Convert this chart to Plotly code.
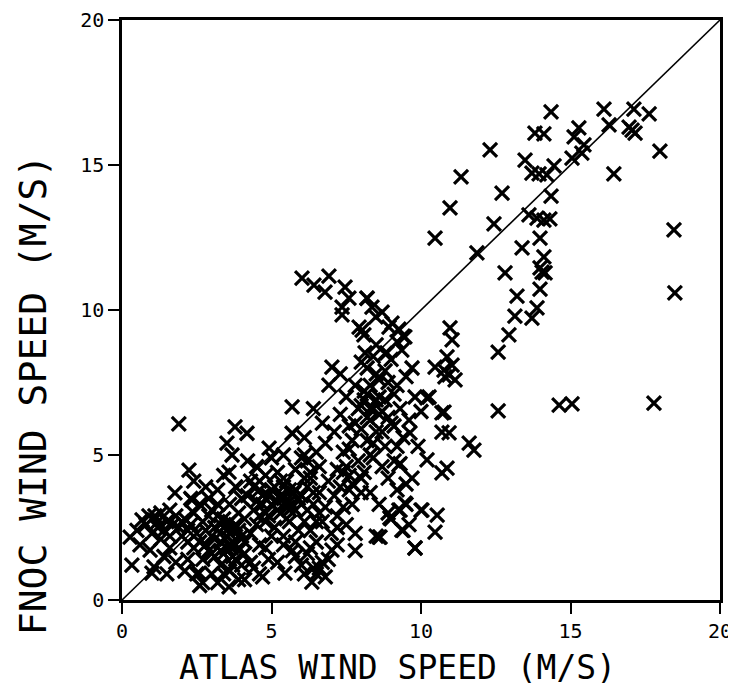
import plotly.graph_objects as go

# ---- data ----
# upper-right scatter (x > 10)
atlas_hi = [14.35, 16.12, 17.12, 17.63, 16.29, 16.96, 17.16, 17.06, 13.81, 14.11,
            15.28, 15.12, 15.45, 15.38, 15.05, 12.31, 17.99, 13.48, 14.45, 13.71,
            13.95, 14.21, 16.45, 12.71, 14.35, 12.44, 13.61, 13.88, 14.31, 14.11,
            18.46, 11.87, 13.98, 13.38, 14.11, 13.98, 14.05, 14.15, 12.81, 13.98,
            13.21, 18.49, 13.88, 13.14, 13.71, 12.94, 12.58, 12.58, 14.62, 15.05,
            17.79, 11.34, 10.97, 10.47]
fnoc_hi = [16.83, 16.93, 16.93, 16.76, 16.38, 16.31, 16.10, 16.20, 16.10, 16.07,
           16.28, 15.97, 15.69, 15.41, 15.24, 15.52, 15.48, 15.17, 14.97, 14.72,
           14.69, 14.66, 14.69, 14.03, 13.93, 12.97, 13.28, 13.17, 13.14, 13.10,
           12.76, 11.97, 12.48, 12.14, 11.83, 11.45, 11.31, 11.28, 11.28, 10.72,
           10.48, 10.59, 10.07, 9.79, 9.72, 9.14, 8.55, 6.52, 6.72, 6.76,
           6.79, 14.59, 13.52, 12.48]

# middle group (x 9-12)
atlas_mid = [10.97, 11.04, 10.87, 11.04, 10.94, 11.14, 10.77, 10.27, 10.70, 10.77,
             10.70, 10.94, 11.61, 11.77, 10.20, 9.26, 10.70, 10.87, 9.46, 9.26,
             10.03, 10.54, 10.47, 9.36, 8.63, 9.80, 8.96, 10.47, 10.80, 9.63,
             9.36, 8.13, 8.86, 10.20]
fnoc_mid = [9.38, 8.97, 8.38, 8.10, 7.76, 7.59, 7.93, 7.00, 6.45, 6.48,
            5.79, 5.76, 5.41, 5.17, 4.83, 4.66, 4.38, 4.55, 3.34, 3.10,
            3.10, 2.93, 2.34, 2.41, 2.17, 1.79, 2.83, 8.03, 7.69, 5.76,
            8.62, 8.52, 8.52, 6.97]

# upper arm (x 6-9.5, y 9-11)
atlas_arm = [6.02, 6.92, 6.42, 6.79, 7.46, 7.59, 7.36, 8.19, 8.70, 8.49,
             9.03, 7.93, 8.09, 9.26, 9.46, 7.36, 8.36, 8.03, 8.93, 7.02, 6.92]
fnoc_arm = [11.10, 11.17, 10.86, 10.62, 10.79, 10.41, 9.83, 10.41, 9.93, 9.76,
            9.55, 9.41, 9.14, 9.34, 9.07, 10.10, 10.10, 9.31, 9.41, 8.03, 7.41]

# dense band (x 0-10)
atlas_low = [0.27, 0.67, 0.94, 1.07, 0.5, 0.33, 0.9, 1.0, 0.8, 0.6,
             1.1, 1.2, 1.3, 1.4, 1.5, 1.6, 1.77, 1.8, 1.9, 1.9, 1.5, 1.8, 1.3, 1.6, 2.24, 2.34,
             2.0, 2.1, 2.3, 2.3, 2.4, 2.5, 2.58, 2.6, 2.6, 2.7, 2.7, 2.8, 2.8, 2.9, 2.9, 3.0,
             3.0, 2.2, 2.4, 2.1, 2.9, 2.6,
             3.0, 3.1, 3.1, 3.2, 3.2, 3.3, 3.3, 3.4, 3.4, 3.51, 3.5, 3.58, 3.6, 3.6, 3.6,
             3.68, 3.7, 3.7, 3.78, 3.8, 3.8, 3.9, 3.9, 3.9, 4.0, 4.0, 3.4, 3.6, 3.2, 3.5,
             3.7, 3.3, 3.8, 4.0, 3.58, 3.45, 3.65, 3.55,
             4.1, 4.1, 4.18, 4.2, 4.3, 4.3, 4.4, 4.4, 4.5, 4.5, 4.6, 4.6, 4.7, 4.7, 4.8,
             4.8, 4.92, 4.9, 5.0, 5.0, 4.4, 4.6, 4.9, 4.2, 4.8, 4.5,
             5.0, 5.1, 5.1, 5.2, 5.2, 5.3, 5.3, 5.4, 5.4, 5.5, 5.45, 5.5, 5.6, 5.6, 5.69,
             5.69, 5.7, 5.8, 5.8, 5.9, 5.9, 6.0, 6.0, 5.2, 5.6, 5.8, 5.4, 5.75, 5.3, 5.55,
             6.0, 6.1, 6.1, 6.2, 6.2, 6.3, 6.35, 6.3, 6.4, 6.4, 6.5, 6.5, 6.5, 6.6, 6.6,
             6.7, 6.7, 6.7, 6.8, 6.8, 6.9, 7.02, 7.0, 6.2, 6.6, 6.1, 6.8, 6.4, 6.0, 6.3,
             7.1, 7.1, 7.2, 7.2, 7.3, 7.3, 7.4, 7.5, 7.5, 7.6, 7.6, 7.7, 7.7, 7.8, 7.8,
             7.9, 7.9, 8.0, 8.0, 8.0, 7.2, 7.4, 7.7, 7.3, 7.8, 7.5,
             8.1, 8.1, 8.2, 8.2, 8.3, 8.3, 8.3, 8.4, 8.4, 8.5, 8.5, 8.6, 8.6, 8.6, 8.7,
             8.7, 8.8, 8.8, 8.9, 8.9, 9.0, 9.0, 8.4, 8.5, 8.9, 8.2, 8.8, 8.3, 8.1, 8.6,
             9.1, 9.1, 9.2, 9.2, 9.3, 9.3, 9.3, 9.4, 9.4, 9.5, 9.5, 9.6, 9.6, 9.7, 9.8,
             9.8, 9.9, 10.0, 9.4, 9.0, 9.2, 9.7, 10.0, 9.5]
fnoc_low = [2.17, 2.76, 1.72, 1.14, 2.4, 1.2, 2.9, 0.93, 2.6, 1.9,
            2.9, 2.5, 2.1, 1.5, 2.7, 2.2, 3.69, 1.3, 6.07, 2.5, 0.9, 2.9, 3.0, 1.8, 4.48, 3.45,
            2.2, 1.0, 3.5, 2.6, 1.8, 0.9, 0.93, 2.0, 3.3, 1.4, 0.6, 2.4, 3.9, 1.7, 2.9, 0.9,
            2.2, 2.0, 4.1, 2.8, 3.5, 0.5,
            3.1, 1.5, 2.5, 0.6, 3.8, 2.0, 1.2, 2.8, 4.3, 5.41, 1.8, 0.45, 2.3, 3.3, 1.0,
            5.0, 2.0, 1.5, 5.97, 2.6, 3.9, 1.7, 0.7, 3.0, 2.2, 1.2, 1.6, 2.7, 3.3, 2.2,
            2.4, 2.6, 1.9, 3.5, 4.41, 2.1, 1.8, 2.45,
            2.8, 1.6, 5.75, 3.6, 2.3, 4.1, 1.1, 3.1, 2.6, 4.6, 3.8, 1.9, 3.3, 0.8, 4.3,
            2.7, 5.24, 3.6, 2.2, 4.9, 3.9, 2.9, 1.4, 4.8, 3.0, 3.4,
            3.3, 3.9, 2.5, 1.3, 4.4, 3.0, 3.6, 2.2, 5.0, 3.3, 0.93, 4.1, 2.7, 3.8, 5.75,
            6.66, 1.7, 3.1, 4.5, 2.4, 3.5, 1.2, 4.9, 3.4, 3.1, 2.0, 3.9, 3.7, 3.5, 3.2,
            3.3, 2.7, 5.6, 3.9, 1.6, 4.4, 0.62, 2.4, 3.3, 6.6, 5.1, 2.0, 0.9, 3.7, 4.6,
            2.7, 6.1, 1.3, 3.2, 5.4, 4.1, 1.72, 2.3, 4.8, 3.0, 5.0, 0.8, 1.1, 3.6, 4.2,
            3.6, 5.8, 4.5, 2.9, 6.4, 3.9, 5.1, 2.6, 7.0, 4.3, 6.0, 3.3, 5.5, 7.4, 2.3,
            4.8, 6.6, 3.7, 5.9, 8.2, 1.9, 3.2, 4.0, 7.8, 1.7, 4.6,
            4.4, 6.9, 10.4, 5.5, 7.4, 3.7, 6.2, 4.9, 8.4, 5.8, 2.2, 7.0, 3.3, 2.17, 6.5,
            4.6, 8.5, 5.3, 7.5, 3.0, 6.1, 2.8, 6.6, 7.8, 4.2, 8.0, 6.9, 5.0, 7.2, 6.4,
            7.1, 4.8, 8.9, 3.8, 6.6, 3.1, 4.7, 5.6, 9.1, 3.3, 7.7, 6.2, 2.6, 4.2, 7.0,
            1.8, 5.3, 3.1, 2.4, 8.3, 5.3, 8.0, 6.5, 4.0]

# extra points in the darkest parts of the band
atlas_dense = [2.2, 2.5, 2.8, 3.1, 3.3, 3.5, 3.7, 3.9, 4.1, 3.4, 3.0, 2.7, 3.6, 3.8, 3.2,
               4.7, 5.0, 5.2, 5.4, 5.6, 5.8, 6.0, 6.2, 4.9, 5.3, 5.5, 5.7, 6.1, 6.4, 4.6,
               1.2, 1.4, 1.7, 2.0, 2.2, 1.0, 1.6, 2.4,
               7.4, 7.6, 7.8, 8.0, 8.2, 8.3, 8.5, 8.6, 8.4, 8.7, 8.9, 9.1, 8.0, 7.6, 8.8,
               9.2, 8.5, 8.2,
               6.3, 6.6, 6.9, 7.2, 6.5, 5.8, 5.4, 6.1,
               4.3, 4.6, 4.1, 4.8]
fnoc_dense = [1.4, 2.3, 1.9, 2.1, 1.7, 2.6, 1.2, 2.4, 2.0, 0.9, 1.6, 2.7, 1.9, 1.4, 2.9,
              3.6, 3.8, 3.1, 3.5, 3.4, 3.8, 3.6, 3.1, 2.9, 4.1, 2.8, 3.2, 4.2, 3.7, 4.1,
              2.7, 2.4, 2.6, 2.7, 2.4, 2.3, 3.1, 3.0,
              4.4, 5.2, 6.1, 6.7, 7.1, 6.6, 6.9, 7.6, 5.4, 5.8, 6.3, 6.0, 4.2, 3.8, 7.9,
              7.4, 8.8, 6.3,
              1.8, 1.1, 1.4, 2.5, 2.7, 1.5, 1.9, 0.9,
              1.3, 0.9, 0.7, 1.8]

atlas = atlas_hi + atlas_mid + atlas_arm + atlas_low + atlas_dense
fnoc = fnoc_hi + fnoc_mid + fnoc_arm + fnoc_low + fnoc_dense

diag = [0, 20]
tick_vals = [0, 5, 10, 15, 20]
tick_text = ["0", "5", "10", "15", "20"]

FONT = "DejaVu Sans Mono"

fig = go.Figure()
fig.add_trace(go.Scatter(x=diag, y=diag, mode="lines",
                         line=dict(color="black", width=1.6),
                         hoverinfo="skip", showlegend=False))
fig.add_trace(go.Scatter(x=atlas, y=fnoc, mode="markers",
                         marker=dict(symbol="x-thin", size=14,
                                     line=dict(color="black", width=3.2)),
                         showlegend=False))

axis_common = dict(range=[0, 20], tickvals=tick_vals, ticktext=tick_text,
                   showgrid=False, zeroline=False, showline=True,
                   linecolor="black", linewidth=2.5, mirror=True,
                   ticks="outside", ticklen=11, tickwidth=2.2, tickcolor="black",
                   automargin=False,
                   tickfont=dict(family=FONT, size=20, color="black"))

fig.update_xaxes(**axis_common)
fig.update_yaxes(**axis_common)

# the page body adds an 8px offset; the figure is sized to fit inside the window
fig.update_layout(
    width=728, height=678,
    margin=dict(l=114, r=16, t=12, b=86),
    paper_bgcolor="white", plot_bgcolor="white",
    annotations=[
        dict(text="ATLAS WIND SPEED (M/S)", xref="paper", yref="paper",
             x=0.46, y=-0.117, xanchor="center", yanchor="middle", showarrow=False,
             font=dict(family=FONT, size=33, color="black")),
        dict(text="FNOC WIND SPEED (M/S)", xref="paper", yref="paper",
             x=-0.149, y=0.353, xanchor="center", yanchor="middle", showarrow=False,
             textangle=-90, font=dict(family=FONT, size=38, color="black")),
    ],
)

fig.write_html("out.html")
